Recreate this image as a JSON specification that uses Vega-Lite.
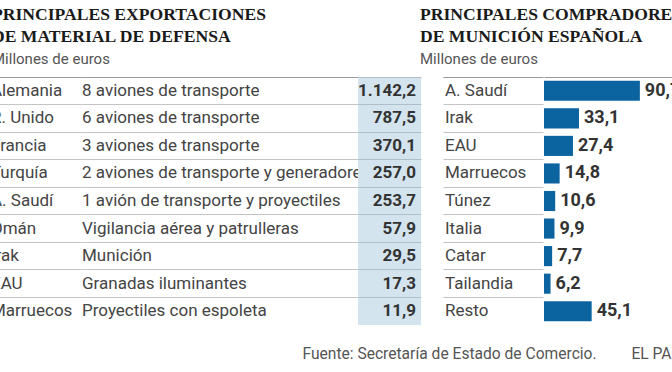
{
  "$schema": "https://vega.github.io/schema/vega-lite/v6.json",
  "background": "white",
  "autosize": {"type": "pad"},
  "padding": {"left": -9, "top": 6, "right": -13, "bottom": 0},
  "config": {
    "view": {"stroke": null},
    "font": "Roboto",
    "locale": {"number": {"decimal": ",", "thousands": ".", "grouping": [3], "currency": ["", "\u00a0€"]}},
    "axis": {"minExtent": 0}
  },
  "datasets": {
    "exp": [
      {"pais": "Alemania", "desc": "8 aviones de transporte", "valor": 1142.2},
      {"pais": "R. Unido", "desc": "6 aviones de transporte", "valor": 787.5},
      {"pais": "Francia", "desc": "3 aviones de transporte", "valor": 370.1},
      {"pais": "Turquía", "desc": "2 aviones de transporte y generadores", "valor": 257.0},
      {"pais": "A. Saudí", "desc": "1 avión de transporte y proyectiles", "valor": 253.7},
      {"pais": "Omán", "desc": "Vigilancia aérea y patrulleras", "valor": 57.9},
      {"pais": "Irak", "desc": "Munición", "valor": 29.5},
      {"pais": "EAU", "desc": "Granadas iluminantes", "valor": 17.3},
      {"pais": "Marruecos", "desc": "Proyectiles con espoleta", "valor": 11.9}
    ],
    "mun": [
      {"pais": "A. Saudí", "valor": 90.7},
      {"pais": "Irak", "valor": 33.1},
      {"pais": "EAU", "valor": 27.4},
      {"pais": "Marruecos", "valor": 14.8},
      {"pais": "Túnez", "valor": 10.6},
      {"pais": "Italia", "valor": 9.9},
      {"pais": "Catar", "valor": 7.7},
      {"pais": "Tailandia", "valor": 6.2},
      {"pais": "Resto", "valor": 45.1}
    ]
  },
  "title": {
    "text": "Fuente: Secretaría de Estado de Comercio.\u00a0\u00a0\u00a0\u00a0\u00a0\u00a0\u00a0\u00a0\u00a0EL PAÍS",
    "orient": "bottom",
    "anchor": "end",
    "frame": "bounds",
    "font": "Roboto",
    "fontSize": 15.6,
    "fontWeight": "normal",
    "color": "#555555",
    "offset": 22
  },
  "spacing": -1,
  "hconcat": [
    {
      "title": {
        "text": ["PRINCIPALES EXPORTACIONES", "DE MATERIAL DE DEFENSA"],
        "subtitle": "Millones de euros",
        "anchor": "start",
        "frame": "group",
        "dx": -1,
        "font": "Liberation Serif",
        "fontSize": 17.6,
        "fontWeight": "bold",
        "color": "#1a1a1a",
        "lineHeight": 22,
        "subtitleFont": "Roboto",
        "subtitleFontSize": 15,
        "subtitleColor": "#555555",
        "subtitlePadding": 6,
        "offset": 10
      },
      "data": {"name": "exp"},
      "bounds": "flush",
      "spacing": 0,
      "hconcat": [
        {
          "width": 89,
          "height": 248,
          "mark": {"type": "text", "align": "left", "baseline": "middle", "dx": -2, "fontSize": 17, "color": "#444444"},
          "encoding": {
            "y": {"field": "pais", "type": "nominal", "sort": null, "scale": {"type": "band", "paddingInner": 0, "paddingOuter": 0},
              "axis": {"title": null, "labels": false, "ticks": false, "domain": false, "grid": true, "bandPosition": 0, "gridColor": "#c4c4c4", "minExtent": 0}},
            "x": {"datum": 0, "type": "quantitative", "scale": {"domain": [0, 1]},
              "axis": {"orient": "top", "title": null, "labels": false, "ticks": false, "grid": false, "domain": true, "domainColor": "#999999"}},
            "text": {"field": "pais"}
          }
        },
        {
          "width": 276,
          "height": 248,
          "mark": {"type": "text", "align": "left", "baseline": "middle", "fontSize": 17, "color": "#444444"},
          "encoding": {
            "y": {"field": "pais", "type": "nominal", "sort": null, "scale": {"type": "band", "paddingInner": 0, "paddingOuter": 0},
              "axis": {"title": null, "labels": false, "ticks": false, "domain": false, "grid": true, "bandPosition": 0, "gridColor": "#c4c4c4", "minExtent": 0}},
            "x": {"datum": 0, "type": "quantitative", "scale": {"domain": [0, 1]},
              "axis": {"orient": "top", "title": null, "labels": false, "ticks": false, "grid": false, "domain": true, "domainColor": "#999999"}},
            "text": {"field": "desc"}
          }
        },
        {
          "width": 63,
          "height": 248,
          "layer": [
            {
              "mark": {"type": "rect", "color": "#d3e4ef"},
              "encoding": {
                "y": {"field": "pais", "type": "nominal", "sort": null, "scale": {"type": "band", "paddingInner": 0, "paddingOuter": 0},
                  "axis": {"title": null, "labels": false, "ticks": false, "domain": false, "grid": true, "bandPosition": 0, "gridColor": "#aebfca", "minExtent": 0, "zindex": 1}}
              }
            },
            {
              "mark": {"type": "text", "align": "right", "baseline": "middle", "dx": -5, "fontSize": 17, "fontWeight": "bold", "color": "#333333"},
              "encoding": {
                "y": {"field": "pais", "type": "nominal", "sort": null, "scale": {"type": "band", "paddingInner": 0, "paddingOuter": 0}},
                "x": {"datum": 1, "type": "quantitative", "scale": {"domain": [0, 1]}, "axis": null},
                "text": {"field": "valor", "type": "quantitative", "format": ",.1f"}
              }
            }
          ]
        }
      ]
    },
    {
      "title": {
        "text": ["PRINCIPALES COMPRADORES", "DE MUNICIÓN ESPAÑOLA"],
        "subtitle": "Millones de euros",
        "anchor": "start",
        "frame": "group",
        "dx": -23,
        "font": "Liberation Serif",
        "fontSize": 17.6,
        "fontWeight": "bold",
        "color": "#1a1a1a",
        "lineHeight": 22,
        "subtitleFont": "Roboto",
        "subtitleFontSize": 15,
        "subtitleColor": "#555555",
        "subtitlePadding": 6,
        "offset": 10
      },
      "data": {"name": "mun"},
      "bounds": "flush",
      "spacing": 1,
      "hconcat": [
        {
          "width": 100,
          "height": 248,
          "mark": {"type": "text", "align": "left", "baseline": "middle", "dx": 2, "fontSize": 17, "color": "#444444"},
          "encoding": {
            "y": {"field": "pais", "type": "nominal", "sort": null, "scale": {"type": "band", "paddingInner": 0, "paddingOuter": 0},
              "axis": {"title": null, "labels": false, "ticks": false, "domain": false, "grid": true, "bandPosition": 0, "gridColor": "#c4c4c4", "minExtent": 0}},
            "x": {"datum": 0, "type": "quantitative", "scale": {"domain": [0, 1]},
              "axis": {"orient": "top", "title": null, "labels": false, "ticks": false, "grid": false, "domain": true, "domainColor": "#999999"}},
            "text": {"field": "pais"}
          }
        },
        {
          "width": 141,
          "height": 248,
          "encoding": {
            "y": {"field": "pais", "type": "nominal", "sort": null, "scale": {"type": "band", "paddingInner": 0.27, "paddingOuter": 0.135}, "axis": null},
            "x": {"field": "valor", "type": "quantitative", "scale": {"domain": [0, 133.4], "nice": false, "zero": true},
              "axis": {"orient": "top", "title": null, "labels": false, "ticks": false, "grid": false, "domain": true, "domainColor": "#999999"}}
          },
          "layer": [
            {"mark": {"type": "bar", "color": "#0b64a0"}},
            {
              "mark": {"type": "text", "align": "left", "baseline": "middle", "dx": 5, "fontSize": 18, "fontWeight": "bold", "color": "#333333"},
              "encoding": {"text": {"field": "valor", "type": "quantitative", "format": ",.1f"}}
            }
          ]
        }
      ]
    }
  ]
}
